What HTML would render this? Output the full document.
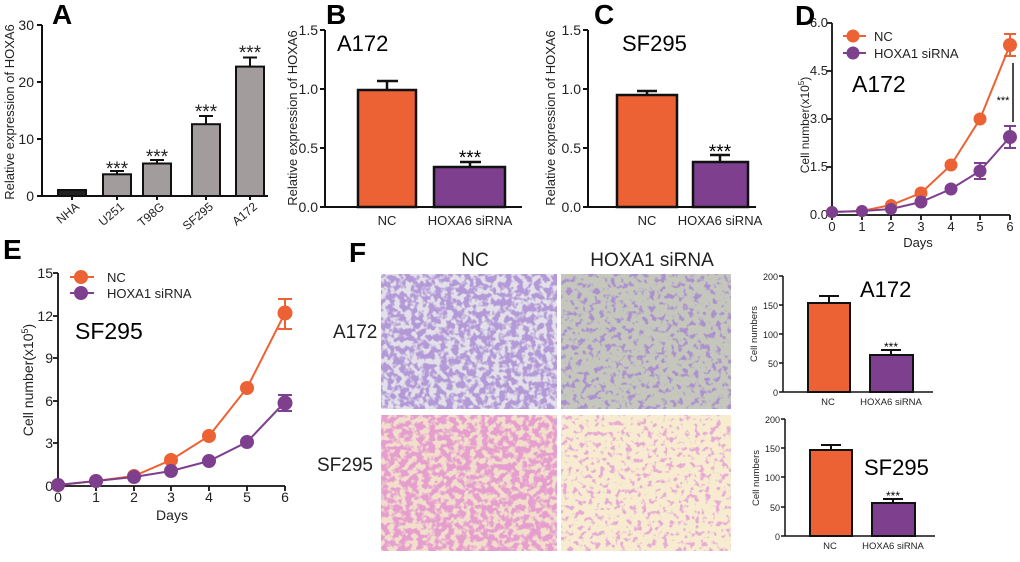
<!DOCTYPE html>
<html><head><meta charset="utf-8"><style>
html,body{margin:0;padding:0;background:#fff;}
svg{display:block;font-family:"Liberation Sans",Arial,sans-serif;}
</style></head><body>
<svg width="1020" height="562" viewBox="0 0 1020 562" xmlns="http://www.w3.org/2000/svg">
<defs>
<filter id="f1" x="0" y="0" width="1" height="1"><feTurbulence type="fractalNoise" baseFrequency="0.17" numOctaves="2" seed="3"/><feColorMatrix type="matrix" values="0 0 0 0 0.45  0 0 0 0 0.32  0 0 0 0 0.68  6 0 0 0 -2.4"/></filter>
<filter id="f2" x="0" y="0" width="1" height="1"><feTurbulence type="fractalNoise" baseFrequency="0.18" numOctaves="2" seed="7"/><feColorMatrix type="matrix" values="0 0 0 0 0.40  0 0 0 0 0.28  0 0 0 0 0.62  7 0 0 0 -3.7"/></filter>
<filter id="f3" x="0" y="0" width="1" height="1"><feTurbulence type="fractalNoise" baseFrequency="0.17" numOctaves="2" seed="11"/><feColorMatrix type="matrix" values="0 0 0 0 0.78  0 0 0 0 0.34  0 0 0 0 0.62  6 0 0 0 -2.4"/></filter>
<filter id="f4" x="0" y="0" width="1" height="1"><feTurbulence type="fractalNoise" baseFrequency="0.19" numOctaves="2" seed="5"/><feColorMatrix type="matrix" values="0 0 0 0 0.80  0 0 0 0 0.40  0 0 0 0 0.66  7 0 0 0 -3.8"/></filter>
</defs>
<g stroke="#111" stroke-width="2" fill="none">
<path d="M42 25V196H268M37 25H42M37 82H42M37 139H42M37 196H42M72 196v4M117 196v4M157 196v4M206 196v4M250 196v4"/>
</g>
<g font-size="14" fill="#222" text-anchor="end">
<text x="34" y="30">30</text><text x="34" y="87">20</text><text x="34" y="144">10</text><text x="34" y="201">0</text>
</g>
<text x="52" y="24" font-size="28" font-weight="bold">A</text>
<text transform="translate(14,112) rotate(-90)" text-anchor="middle" font-size="13" fill="#222">Relative expression of HOXA6</text>
<g stroke="#111" stroke-width="2">
<rect x="58" y="190" width="28" height="6" fill="#222"/>
<rect x="103" y="174.3" width="28" height="21.7" fill="#a39c9c"/>
<rect x="143" y="163.5" width="28" height="32.5" fill="#a39c9c"/>
<rect x="192" y="124.2" width="28" height="71.8" fill="#a39c9c"/>
<rect x="236" y="66.6" width="28" height="129.4" fill="#a39c9c"/>
<path d="M117 174V171M110 171H124M157 163V160M150 160H164M206 124V116M199 116H213M250 66V57.5M243 57.5H257" fill="none"/>
</g>
<g font-size="19" text-anchor="middle" fill="#222"><text x="117" y="175">***</text><text x="157" y="163">***</text><text x="206" y="118">***</text><text x="250" y="59">***</text></g>
<g font-size="12" fill="#222" text-anchor="end">
<text transform="translate(80,208) rotate(-40)">NHA</text>
<text transform="translate(125,208) rotate(-40)">U251</text>
<text transform="translate(165,208) rotate(-40)">T98G</text>
<text transform="translate(214,208) rotate(-40)">SF295</text>
<text transform="translate(258,208) rotate(-40)">A172</text>
</g>

<!-- B -->
<g stroke="#111" stroke-width="2" fill="none"><path d="M325 30V207H522M320 30H325M320 89H325M320 148H325M320 207H325"/></g>
<g font-size="14" fill="#222" text-anchor="end"><text x="318" y="35">1.5</text><text x="318" y="94">1.0</text><text x="318" y="153">0.5</text><text x="318" y="212">0.0</text></g>
<text x="326" y="24" font-size="28" font-weight="bold">B</text>
<text x="337" y="51" font-size="22">A172</text>
<text transform="translate(297,118) rotate(-90)" text-anchor="middle" font-size="13" fill="#222">Relative expression of HOXA6</text>
<g stroke="#111" stroke-width="2.5">
<rect x="358" y="90" width="58" height="117" fill="#ec6234"/>
<rect x="434" y="167" width="71" height="40" fill="#7e3f8f"/>
<path d="M387 90V81M377 81H398M470 167V162M460 162H481" fill="none"/>
</g>
<text x="470" y="164" font-size="19" text-anchor="middle">***</text>
<g font-size="13" fill="#222" text-anchor="middle"><text x="387" y="225">NC</text><text x="470" y="225">HOXA6 siRNA</text></g>

<!-- C -->
<g stroke="#111" stroke-width="2" fill="none"><path d="M588 30V207H756M583 30H588M583 89H588M583 148H588M583 207H588"/></g>
<g font-size="14" fill="#222" text-anchor="end"><text x="581" y="35">1.5</text><text x="581" y="94">1.0</text><text x="581" y="153">0.5</text><text x="581" y="212">0.0</text></g>
<text x="594" y="24" font-size="28" font-weight="bold">C</text>
<text x="622" y="51" font-size="22">SF295</text>
<text transform="translate(555,118) rotate(-90)" text-anchor="middle" font-size="13" fill="#222">Relative expression of HOXA6</text>
<g stroke="#111" stroke-width="2.5">
<rect x="617" y="95" width="60" height="112" fill="#ec6234"/>
<rect x="693" y="162" width="55" height="45" fill="#7e3f8f"/>
<path d="M647 95V91M637 91H657M720 162V155M710 155H730" fill="none"/>
</g>
<text x="720" y="158" font-size="19" text-anchor="middle">***</text>
<g font-size="13" fill="#222" text-anchor="middle"><text x="647" y="225">NC</text><text x="720" y="225">HOXA6 siRNA</text></g>

<!-- D -->
<g stroke="#111" stroke-width="1.8" fill="none"><path d="M832 23V215H1010M827 23H832M827 71H832M827 119H832M827 167H832M827 215H832M832 215v5M862 215v5M891 215v5M921 215v5M951 215v5M980 215v5M1010 215v5"/></g>
<g font-size="13" fill="#222" text-anchor="end"><text x="828" y="27">6.0</text><text x="828" y="75">4.5</text><text x="828" y="123">3.0</text><text x="828" y="171">1.5</text><text x="828" y="219">0.0</text></g>
<g font-size="13" fill="#222" text-anchor="middle"><text x="832" y="231">0</text><text x="862" y="231">1</text><text x="891" y="231">2</text><text x="921" y="231">3</text><text x="951" y="231">4</text><text x="980" y="231">5</text><text x="1010" y="231">6</text></g>
<text x="918" y="247" font-size="13" text-anchor="middle" fill="#222">Days</text>
<text x="795" y="25" font-size="28" font-weight="bold">D</text>
<text transform="translate(809,125) rotate(-90)" text-anchor="middle" font-size="12" fill="#222">Cell number(x10<tspan dy="-5" font-size="8">5</tspan><tspan dy="5">)</tspan></text>
<text x="852" y="92" font-size="23">A172</text>
<g stroke="#ec6234" stroke-width="2" fill="#ec6234">
<path d="M843 36H866" /><circle cx="853" cy="36" r="5.5"/>
<polyline fill="none" points="832,212 862,211 891,205 921,193 951,165 980,119 1010,45"/>
<circle cx="832" cy="212" r="5"/><circle cx="862" cy="211" r="5"/><circle cx="891" cy="205" r="5"/><circle cx="921" cy="193" r="5.5"/><circle cx="951" cy="165" r="5.5"/><circle cx="980" cy="119" r="5.5"/><circle cx="1010" cy="45" r="6"/>
<path d="M1010 34V56M1004 34H1016M1004 56H1016" fill="none"/>
</g>
<g stroke="#7e3f8f" stroke-width="2" fill="#7e3f8f">
<path d="M843 53H866" /><circle cx="853" cy="53" r="5.5"/>
<polyline fill="none" points="832,212 862,211 891,209 921,202 951,189 980,171 1010,137"/>
<circle cx="832" cy="212" r="5"/><circle cx="862" cy="211" r="5"/><circle cx="891" cy="209" r="5"/><circle cx="921" cy="202" r="5.5"/><circle cx="951" cy="189" r="5.5"/><circle cx="980" cy="171" r="5.5"/><circle cx="1010" cy="137" r="6"/>
<path d="M980 163V179M974 163H986M974 179H986M1010 126V148M1004 126H1016M1004 148H1016" fill="none"/>
</g>
<text x="874" y="41" font-size="13" fill="#222">NC</text>
<text x="874" y="58" font-size="13" fill="#222">HOXA1 siRNA</text>
<path d="M1013 63V122" stroke="#111" stroke-width="1.5"/>
<text x="1003" y="104" font-size="11" text-anchor="middle">***</text>

<!-- E -->
<g stroke="#111" stroke-width="1.8" fill="none"><path d="M58 273V486H285M53 273H58M53 316H58M53 358H58M53 401H58M53 443H58M53 486H58M58 486v5M96 486v5M134 486v5M171 486v5M209 486v5M247 486v5M285 486v5"/></g>
<g font-size="14" fill="#222" text-anchor="end"><text x="53" y="278">15</text><text x="53" y="321">12</text><text x="53" y="363">9</text><text x="53" y="406">6</text><text x="53" y="448">3</text><text x="53" y="491">0</text></g>
<g font-size="14" fill="#222" text-anchor="middle"><text x="58" y="502">0</text><text x="96" y="502">1</text><text x="134" y="502">2</text><text x="171" y="502">3</text><text x="209" y="502">4</text><text x="247" y="502">5</text><text x="285" y="502">6</text></g>
<text x="172" y="520" font-size="14" text-anchor="middle" fill="#222">Days</text>
<text x="3" y="259" font-size="28" font-weight="bold">E</text>
<text transform="translate(33,380) rotate(-90)" text-anchor="middle" font-size="14" fill="#222">Cell number(x10<tspan dy="-5" font-size="9">5</tspan><tspan dy="5">)</tspan></text>
<text x="75" y="339" font-size="23">SF295</text>
<g stroke="#ec6234" stroke-width="2" fill="#ec6234">
<path d="M70 277H94"/><circle cx="81" cy="277" r="6"/>
<polyline fill="none" points="58,485 96,481 134,476 171,460 209,436 247,388 285,313"/>
<circle cx="58" cy="485" r="6"/><circle cx="96" cy="481" r="6"/><circle cx="134" cy="476" r="6"/><circle cx="171" cy="460" r="6"/><circle cx="209" cy="436" r="6"/><circle cx="247" cy="388" r="6"/><circle cx="285" cy="313" r="6.5"/>
<path d="M285 299V329M278 299H292M278 329H292" fill="none"/>
</g>
<g stroke="#7e3f8f" stroke-width="2" fill="#7e3f8f">
<path d="M70 293H94"/><circle cx="81" cy="293" r="6"/>
<polyline fill="none" points="58,485 96,481 134,477 171,471 209,461 247,442 285,402"/>
<circle cx="58" cy="485" r="6"/><circle cx="96" cy="481" r="6"/><circle cx="134" cy="477" r="6"/><circle cx="171" cy="471" r="6"/><circle cx="209" cy="461" r="6"/><circle cx="247" cy="442" r="6"/><circle cx="285" cy="403" r="6.5"/>
<path d="M285 395V411M278 395H292M278 411H292" fill="none"/>
</g>
<text x="107" y="282" font-size="13" fill="#222">NC</text>
<text x="107" y="298" font-size="13" fill="#222">HOXA1 siRNA</text>

<!-- F -->
<text x="349" y="262" font-size="28" font-weight="bold">F</text>
<g font-size="19" fill="#222" text-anchor="middle"><text x="475" y="266">NC</text><text x="652" y="266">HOXA1 siRNA</text></g>
<text x="333" y="338" font-size="19" fill="#222">A172</text>
<text x="317" y="471" font-size="19" fill="#222">SF295</text>
<rect x="381" y="274" width="176" height="135" fill="#e2e0e8"/>
<rect x="381" y="274" width="176" height="135" filter="url(#f1)"/>
<rect x="561" y="274" width="170" height="135" fill="#c5c7bd"/>
<rect x="561" y="274" width="170" height="135" filter="url(#f2)"/>
<rect x="381" y="415" width="176" height="136" fill="#f2dfcb"/>
<rect x="381" y="415" width="176" height="136" filter="url(#f3)"/>
<rect x="561" y="415" width="170" height="136" fill="#f7ecd0"/>
<rect x="561" y="415" width="170" height="136" filter="url(#f4)"/>

<!-- F top chart -->
<g stroke="#111" stroke-width="1.5" fill="none"><path d="M783 276V392H933M779 276H783M779 305H783M779 334H783M779 363H783M779 392H783"/></g>
<g font-size="9" fill="#222" text-anchor="end"><text x="778" y="280">200</text><text x="778" y="309">150</text><text x="778" y="338">100</text><text x="778" y="367">50</text><text x="778" y="396">0</text></g>
<text transform="translate(757,334) rotate(-90)" text-anchor="middle" font-size="9.5" fill="#222">Cell numbers</text>
<text x="860" y="297" font-size="22">A172</text>
<g stroke="#111" stroke-width="2">
<rect x="808" y="303" width="42" height="89" fill="#ec6234"/>
<rect x="870" y="355" width="43" height="37" fill="#7e3f8f"/>
<path d="M829 303V296M819 296H839M891 355V350M881 350H901" fill="none"/>
</g>
<text x="891" y="351" font-size="12" text-anchor="middle">***</text>
<g font-size="9.5" fill="#222" text-anchor="middle"><text x="828" y="405">NC</text><text x="891" y="405">HOXA6 siRNA</text></g>

<!-- F bottom chart -->
<g stroke="#111" stroke-width="1.5" fill="none"><path d="M785 419V536H935M781 419H785M781 448H785M781 477H785M781 507H785M781 536H785"/></g>
<g font-size="9" fill="#222" text-anchor="end"><text x="780" y="423">200</text><text x="780" y="452">150</text><text x="780" y="481">100</text><text x="780" y="511">50</text><text x="780" y="540">0</text></g>
<text transform="translate(759,478) rotate(-90)" text-anchor="middle" font-size="9.5" fill="#222">Cell numbers</text>
<text x="864" y="475" font-size="22">SF295</text>
<g stroke="#111" stroke-width="2">
<rect x="810" y="450" width="42" height="86" fill="#ec6234"/>
<rect x="872" y="503" width="43" height="33" fill="#7e3f8f"/>
<path d="M831 450V445M821 445H841M893 503V499M883 499H903" fill="none"/>
</g>
<text x="893" y="500" font-size="12" text-anchor="middle">***</text>
<g font-size="9.5" fill="#222" text-anchor="middle"><text x="830" y="549">NC</text><text x="893" y="549">HOXA6 siRNA</text></g>
</svg>
</body></html>
